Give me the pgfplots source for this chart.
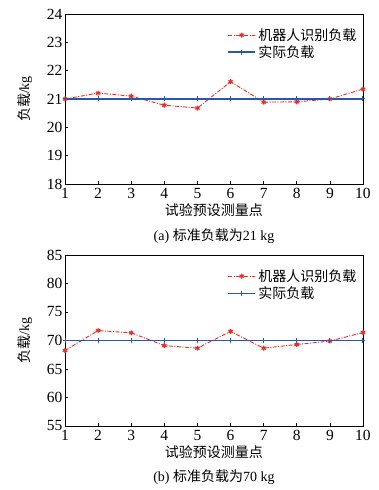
\documentclass[border=0pt]{standalone}
\usepackage{pgfplots}
\pgfplotsset{compat=1.18}
\usepackage{fontspec}
\setmainfont{Liberation Serif}
\newfontfamily\cjk{Noto Sans CJK SC}
\definecolor{rred}{RGB}{235,45,40}
\definecolor{bblue}{RGB}{45,85,170}
\pgfplotsset{
  myax/.style={
    scale only axis, width=298pt, height=170pt, clip=false,
    xmin=1, xmax=10, xtick={1,...,10},
    tick align=inside, tick pos=left,
    major tick length=3pt,
    axis line style={line width=0.7pt},
    tick style={line width=0.6pt, black},
    /pgf/number format/assume math mode=true,
    ticklabel style={font=\fontsize{15.5}{16}\selectfont},
    xticklabel style={yshift=-0.5pt},
    yticklabel style={xshift=1pt},
    xlabel={\cjk 试验预设测量点},
    ylabel={{\cjk 负载}/kg},
    label style={font=\fontsize{14}{15}\selectfont},
    xlabel style={yshift=2pt},
    ylabel style={yshift=8pt},
    legend style={draw=none, fill=none, at={(0.995,0.94)}, anchor=north east,
      font=\fontsize{14}{15}\selectfont, row sep=0pt,
      /tikz/every even column/.append style={column sep=2pt}},
    legend cell align=left,
    legend image code/.code={
      \draw[mark repeat=2,mark phase=2,#1] plot coordinates {(0cm,0cm) (0.48cm,0cm) (0.96cm,0cm)};
    },
  },
  rob/.style={color=rred, line width=0.9pt, dash pattern=on 4pt off 1.5pt on 1pt off 1.5pt,
    mark=asterisk, mark size=2.5pt, mark options={solid, line width=1.2pt}},
  act/.style={color=bblue, line width=1.8pt, mark=+, mark size=2.5pt, mark options={solid, line width=1pt}},
}
\begin{document}
\begin{tikzpicture}
\useasboundingbox (0,0) rectangle (379pt,490pt);
\begin{axis}[myax, at={(65pt,306pt)}, anchor=south west,
  ymin=18, ymax=24, ytick={18,...,24}]
\addplot[rob] coordinates {(1,21.0) (2,21.21) (3,21.1) (4,20.78) (5,20.68) (6,21.61) (7,20.89) (8,20.9) (9,21.0) (10,21.35)};
\addlegendentry{\cjk 机器人识别负载}
\addplot[act] coordinates {(1,21) (2,21) (3,21) (4,21) (5,21) (6,21) (7,21) (8,21) (9,21) (10,21)};
\addlegendentry{\cjk 实际负载}
\node[font=\fontsize{14}{15}\selectfont] at (axis description cs:0.5,-0.305) {(a) {\cjk 标准负载为}21 kg};
\end{axis}
\begin{axis}[myax, at={(65pt,64pt)}, anchor=south west, height=171pt,
  ymin=55, ymax=85, ytick={55,60,...,85}]
\addplot[rob] coordinates {(1,68.25) (2,71.75) (3,71.35) (4,69.1) (5,68.65) (6,71.6) (7,68.65) (8,69.3) (9,69.9) (10,71.4)};
\addlegendentry{\cjk 机器人识别负载}
\addplot[act] coordinates {(1,70) (2,70) (3,70) (4,70) (5,70) (6,70) (7,70) (8,70) (9,70) (10,70)};
\addlegendentry{\cjk 实际负载}
\node[font=\fontsize{14}{15}\selectfont] at (axis description cs:0.5,-0.30) {(b) {\cjk 标准负载为}70 kg};
\end{axis}
\end{tikzpicture}
\end{document}
